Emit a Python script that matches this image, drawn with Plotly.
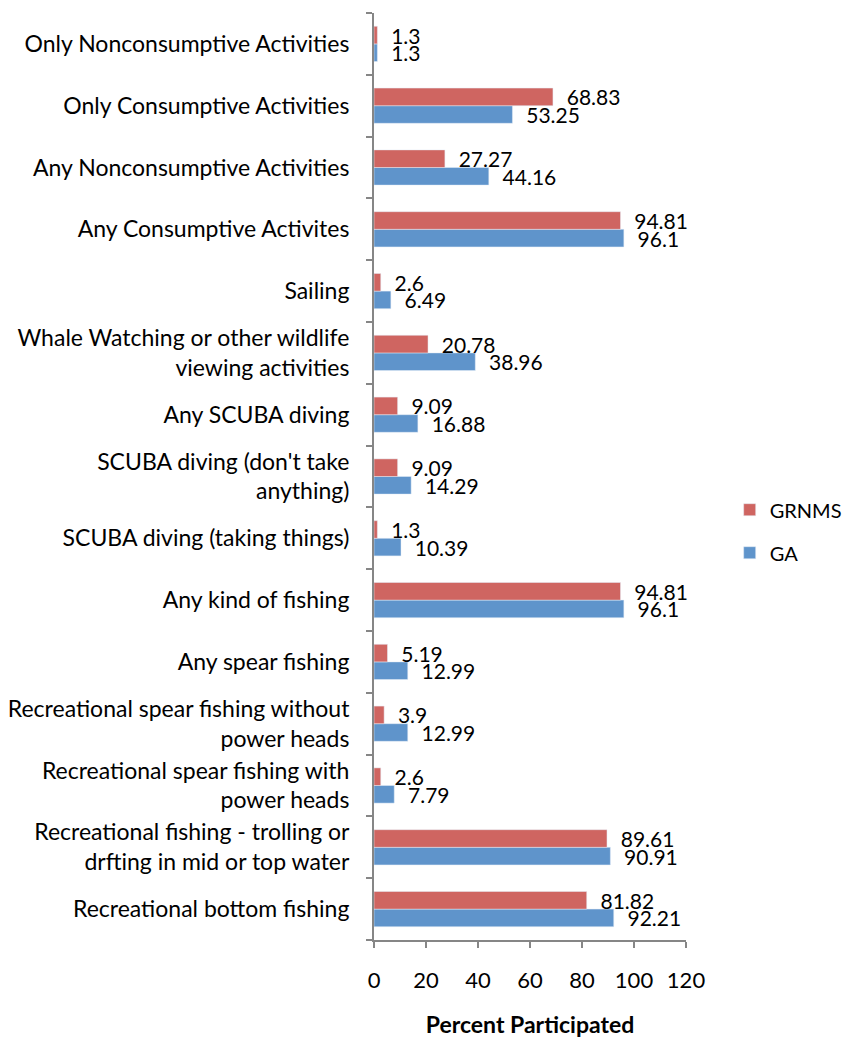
import plotly.graph_objects as go

# categories listed bottom to top (plotly draws the first category at the bottom)
categories = [
    "Recreational bottom fishing",
    "Recreational fishing - trolling or<br>drfting in mid or top water",
    "Recreational spear fishing with<br>power heads",
    "Recreational spear fishing without<br>power heads",
    "Any spear fishing",
    "Any kind of fishing",
    "SCUBA diving (taking things)",
    "SCUBA diving (don't take<br>anything)",
    "Any SCUBA diving",
    "Whale Watching or other wildlife<br>viewing activities",
    "Sailing",
    "Any Consumptive Activites",
    "Any Nonconsumptive Activities",
    "Only Consumptive Activities",
    "Only Nonconsumptive Activities",
]
ga = [92.21, 90.91, 7.79, 12.99, 12.99, 96.1, 10.39, 14.29, 16.88, 38.96, 6.49, 96.1, 44.16, 53.25, 1.3]
grnms = [81.82, 89.61, 2.6, 3.9, 5.19, 94.81, 1.3, 9.09, 9.09, 20.78, 2.6, 94.81, 27.27, 68.83, 1.3]

FONT = "Lato"

fig = go.Figure()
fig.add_trace(go.Bar(y=categories, x=ga, name="GA", orientation="h",
                     legendgroup="b", legendrank=2,
                     marker_color="#5f94cb", text=[f"  {v:g}" for v in ga],
                     textposition="outside", cliponaxis=False,
                     textfont=dict(size=21, color="black", family=FONT)))
fig.add_trace(go.Bar(y=categories, x=grnms, name="GRNMS", orientation="h",
                     legendgroup="a", legendrank=1,
                     marker_color="#cf6561", text=[f"  {v:g}" for v in grnms],
                     textposition="outside", cliponaxis=False,
                     textfont=dict(size=21, color="black", family=FONT)))

# the page body adds an 8px offset, so the figure is sized to fit inside the window
fig.update_layout(
    width=844, height=1030,
    barmode="group", bargap=0.43, bargroupgap=0,
    paper_bgcolor="white", plot_bgcolor="white",
    font=dict(family=FONT, size=22, color="black"),
    margin=dict(l=366, r=155, t=5, b=98),
    showlegend=True,
    legend=dict(traceorder="grouped", x=1.14, y=0.441, xanchor="left", yanchor="middle",
                font=dict(size=20), itemwidth=30, tracegroupgap=14),
    xaxis=dict(range=[0, 120], dtick=20, showgrid=False, zeroline=False, automargin=False,
               showline=True, linecolor="#868686", linewidth=2,
               ticks="outside", ticklen=6, tickcolor="#868686", tickwidth=2,
               ticklabelstandoff=14, tickfont=dict(size=22),
               title=dict(text="<b>Percent Participated</b>", font=dict(size=23), standoff=27)),
    yaxis=dict(showgrid=False, showline=True, linecolor="#868686", linewidth=2, automargin=False,
               ticks="outside", ticklen=6, tickcolor="#868686", tickwidth=2,
               tickson="boundaries", ticklabelstandoff=18, tickfont=dict(size=23)),
)
fig.update_traces(constraintext="none")

fig.write_html("out.html")
